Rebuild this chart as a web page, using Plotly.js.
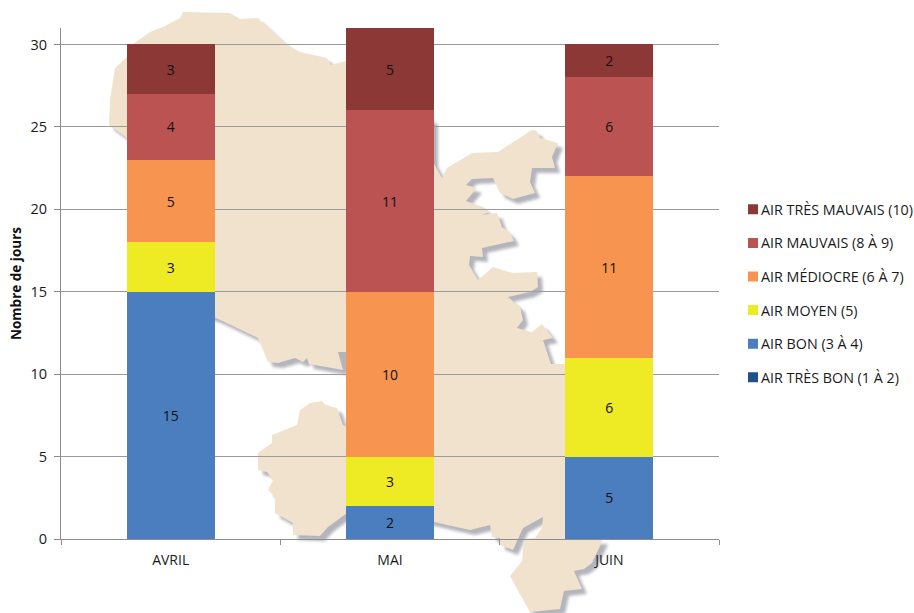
<!DOCTYPE html>
<html>
<head>
<meta charset="utf-8">
<script src="https://cdn.plot.ly/plotly-3.0.1.min.js"></script>
<style>html,body{margin:0;padding:0;background:#fff;overflow:hidden}#chart{width:914px;height:613px}</style>
</head>
<body>
<div id="chart"></div>
<script>
const months = ['AVRIL', 'MAI', 'JUIN'];
const airTresBon = [0, 0, 0];
const airBon = [15, 2, 5];
const airMoyen = [3, 3, 6];
const airMediocre = [5, 10, 11];
const airMauvais = [4, 11, 6];
const airTresMauvais = [3, 5, 2];
const yTicks = [0, 5, 10, 15, 20, 25, 30];

// Decorative background map outline, in page pixels
const mapOutline = [[183,12],[230,13],[240,19],[258,18],[263,23],[287,45],[300,52],[327,58],[331,65],[350,60],[433,120],[433,162],[442,178],[447,168],[472,153],[498,152],[532,130],[537,131],[540,138],[558,143],[552,157],[555,168],[532,168],[530,182],[535,193],[513,199],[500,193],[493,178],[472,179],[466,185],[477,188],[466,201],[483,207],[490,212],[482,215],[497,213],[502,227],[510,233],[514,241],[482,248],[483,257],[470,256],[469,265],[478,280],[493,267],[513,273],[537,272],[538,287],[530,292],[508,297],[520,307],[523,320],[517,328],[532,332],[542,324],[553,338],[543,340],[551,364],[570,364],[570,539],[603,539],[600,546],[592,563],[584,569],[574,571],[582,589],[564,591],[560,609],[530,612],[510,576],[522,561],[524,539],[535,538],[542,528],[543,517],[523,528],[513,550],[500,545],[500,538],[492,537],[490,525],[470,530],[447,525],[434,522],[400,515],[347,513],[328,527],[320,536],[293,535],[293,523],[275,513],[275,497],[268,490],[273,480],[267,472],[258,470],[258,453],[272,443],[272,435],[297,425],[300,410],[310,403],[322,401],[325,405],[337,408],[343,425],[347,427],[380,400],[380,352],[338,352],[343,370],[309,364],[307,358],[303,362],[295,358],[278,363],[268,362],[258,338],[216,318],[160,300],[127,138],[109,125],[110,100],[115,68],[127,57],[133,44],[150,32],[163,27],[180,18]];
const notchShadow = [[338,352],[348,352],[348,371],[343,371]];

const L = 61, R = 195, T = 28, B = 74, W = 914, H = 613;
const pw = W - L - R, ph = H - T - B;
function mapPath(points, dx, dy) {
  return points.map((p, i) => (i ? 'L' : 'M') + ((p[0] + dx - L) / pw).toFixed(4) + ',' + (1 - (p[1] + dy - T) / ph).toFixed(4)).join(' ') + ' Z';
}

function series(name, values, color, showText, rank) {
  return {
    type: 'bar', name: name, x: months, y: values, legendgroup: name, legendrank: rank,
    marker: {color: color, line: {width: 0}},
    text: showText ? values.map(String) : undefined,
    textposition: showText ? 'inside' : 'none',
    insidetextanchor: 'middle', textangle: 0, constraintext: 'none',
    insidetextfont: {color: '#111', size: 14, family: 'Open Sans'},
    hoverinfo: 'name+y'
  };
}

const traces = [
  series('AIR TRÈS BON (1 À 2)', airTresBon, '#23508a', false, 6),
  series('AIR BON (3 À 4)', airBon, '#4a7ebf', true, 5),
  series('AIR MOYEN (5)', airMoyen, '#eeea24', true, 4),
  series('AIR MÉDIOCRE (6 À 7)', airMediocre, '#f79550', true, 3),
  series('AIR MAUVAIS (8 À 9)', airMauvais, '#bb5352', true, 2),
  series('AIR TRÈS MAUVAIS (10)', airTresMauvais, '#8c3836', true, 1)
];

const layout = {
  width: W, height: H,
  margin: {l: L, r: R, t: T, b: B, pad: 0, autoexpand: false},
  paper_bgcolor: '#fff', plot_bgcolor: 'rgba(0,0,0,0)',
  barmode: 'stack', bargap: 0.6,
  font: {family: 'Open Sans', color: '#1a1a1a', size: 14},
  showlegend: true,
  legend: {x: 1.0213, xanchor: 'left', y: 0.4804, yanchor: 'middle', traceorder: 'grouped', tracegroupgap: 12,
           font: {size: 14.3, family: 'Open Sans', color: '#1a1a1a'}, bgcolor: 'rgba(0,0,0,0)'},
  xaxis: {type: 'category', categoryorder: 'array', categoryarray: months, tickson: 'boundaries', ticks: 'outside', ticklen: 5, tickcolor: '#8c8c8c',
          showline: true, linecolor: '#8c8c8c', linewidth: 1, showgrid: false, zeroline: false, tickfont: {size: 14}, ticklabelstandoff: 8},
  yaxis: {range: [0, 31], tickvals: yTicks, ticks: 'outside', ticklen: 6, tickcolor: '#8c8c8c', showline: true, linecolor: '#8c8c8c', linewidth: 1,
          showgrid: true, gridcolor: '#9a9a9a', gridwidth: 1, zeroline: false, tickfont: {size: 14.5}, ticklabelstandoff: 4,
          title: {text: 'Nombre de jours', font: {size: 13.5, family: 'Open Sans', color: '#111', weight: 'bold'}, standoff: 5}},
  shapes: [
    {type: 'path', xref: 'paper', yref: 'paper', layer: 'below', path: mapPath(mapOutline, 5, 5), fillcolor: '#b4b5bc', line: {width: 0}},
    {type: 'path', xref: 'paper', yref: 'paper', layer: 'below', path: mapPath(notchShadow, 0, 0), fillcolor: '#b4b5bc', line: {width: 0}},
    {type: 'path', xref: 'paper', yref: 'paper', layer: 'below', path: mapPath(mapOutline, 0, 0), fillcolor: '#f0e2cc', line: {width: 0}}
  ],
  annotations: [
    {xref: 'paper', yref: 'paper', x: (84 - L) / pw, y: 1 + 28 / ph, xanchor: 'center', yanchor: 'bottom', text: 'p', showarrow: false, font: {size: 19, color: '#8a8a8a', family: 'Open Sans'}},
    {xref: 'paper', yref: 'paper', x: (241 - L) / pw, y: 1 + 28 / ph, xanchor: 'center', yanchor: 'bottom', text: 'g', showarrow: false, font: {size: 19, color: '#8a8a8a', family: 'Open Sans'}}
  ]
};

Plotly.newPlot('chart', traces, layout, {displayModeBar: false}).then(gd => {
  const shapes = gd.querySelectorAll('.shapelayer path');
  if (shapes[0]) shapes[0].style.filter = 'blur(1.5px)';
  if (shapes[1]) shapes[1].style.filter = 'blur(1px)';
  gd.querySelectorAll('.legend .legendpoints path').forEach(p => { p.setAttribute('d', 'M5,5H-5V-5H5Z'); });
  gd.querySelectorAll('.legend text.legendtext').forEach(t => { t.setAttribute('x', parseFloat(t.getAttribute('x')) - 12); });
});
</script>
</body>
</html>
